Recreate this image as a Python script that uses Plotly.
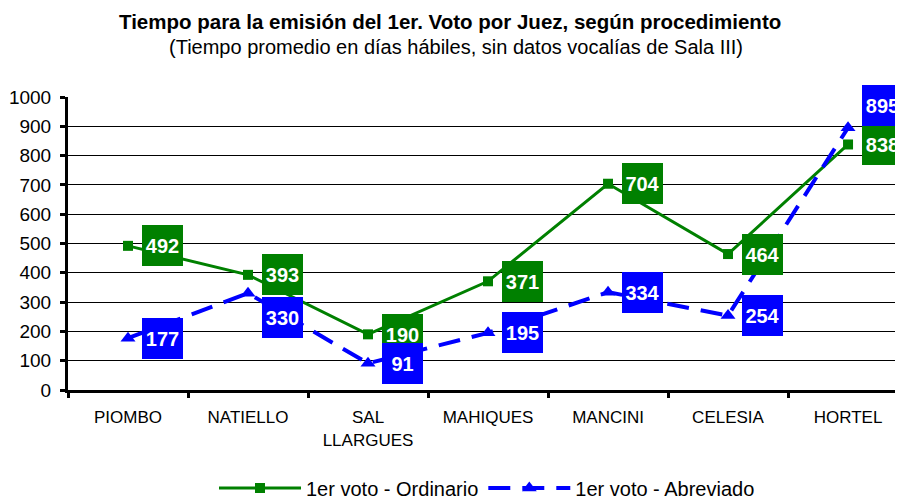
import plotly.graph_objects as go

categories = ["PIOMBO", "NATIELLO", "SAL<br>LLARGUES", "MAHIQUES", "MANCINI", "CELESIA", "HORTEL"]
ordinario = [492, 393, 190, 371, 704, 464, 838]
abreviado = [177, 330, 91, 195, 334, 254, 895]

GREEN = "#008000"
BLUE = "#0000FF"
FONT = "Liberation Sans, Arial, sans-serif"

# vertical nudges (px) for labels that the original moved to avoid overlaps
abrev_label_shift = {1: -24, 6: 22}

W, H = 895, 492
L, R, T, B = 60, 0, 89, 110
PW = W - L - R
PH = H - T - B

fig = go.Figure()
fig.add_trace(go.Scatter(
    x=categories, y=ordinario, name="1er voto - Ordinario",
    mode="lines+markers",
    line=dict(color=GREEN, width=3),
    marker=dict(symbol="square", size=10, color=GREEN),
))
fig.add_trace(go.Scatter(
    x=categories, y=abreviado, name="1er voto - Abreviado",
    mode="lines+markers",
    line=dict(color=BLUE, width=4, dash="22px,12px"),
    marker=dict(symbol="triangle-up", size=13, color=BLUE),
))

annotations = []
for i, (c, v) in enumerate(zip(categories, ordinario)):
    annotations.append(dict(
        x=c, y=v, xref="x", yref="y", text=f"<b>{v}</b>", showarrow=False,
        xanchor="left", yanchor="middle", xshift=14,
        bgcolor=GREEN, width=41, height=41, borderpad=0, borderwidth=0,
        font=dict(family=FONT, size=20, color="white"),
    ))
for i, (c, v) in enumerate(zip(categories, abreviado)):
    annotations.append(dict(
        x=c, y=v, xref="x", yref="y", text=f"<b>{v}</b>", showarrow=False,
        xanchor="left", yanchor="middle", xshift=14, yshift=abrev_label_shift.get(i, 0),
        bgcolor=BLUE, width=41, height=41, borderpad=0, borderwidth=0,
        font=dict(family=FONT, size=20, color="white"),
    ))

annotations.append(dict(
    text="<b>Tiempo para la emisión del 1er. Voto por Juez, según procedimiento</b>",
    xref="paper", yref="paper", x=(442 - L) / PW, y=1 + (T - 13) / PH,
    xanchor="center", yanchor="middle", showarrow=False,
    font=dict(family=FONT, size=20.5, color="black"),
))
annotations.append(dict(
    text="(Tiempo promedio en días hábiles, sin datos vocalías de Sala III)",
    xref="paper", yref="paper", x=(448 - L) / PW, y=1 + (T - 39) / PH,
    xanchor="center", yanchor="middle", showarrow=False,
    font=dict(family=FONT, size=20, color="black"),
))

fig.update_layout(
    width=W, height=H,
    margin=dict(l=L, r=R, t=T, b=B, autoexpand=False),
    paper_bgcolor="white", plot_bgcolor="white",
    font=dict(family=FONT, color="black"),
    showlegend=True,
    legend=dict(orientation="h", x=(479 - L) / PW, xanchor="center",
                y=-(480 - (H - B)) / PH, yanchor="middle",
                font=dict(family=FONT, size=20, color="black"), itemwidth=82),
    annotations=annotations,
)
fig.update_xaxes(
    type="category", range=[-0.5, 6.458],
    showline=True, linecolor="black", linewidth=3,
    ticks="outside", tickson="boundaries", ticklen=5, tickwidth=3, tickcolor="black",
    showgrid=False, tickfont=dict(family=FONT, size=17, color="black"),
    ticklabelstandoff=10,
)
fig.update_yaxes(
    range=[0, 1000], dtick=100,
    showline=True, linecolor="black", linewidth=3,
    ticks="outside", ticklen=5, tickwidth=3, tickcolor="black",
    showgrid=True, gridcolor="black", gridwidth=1, zeroline=False,
    tickfont=dict(family=FONT, size=19, color="black"),
    ticklabelstandoff=5,
)

fig.write_html("out.html")
